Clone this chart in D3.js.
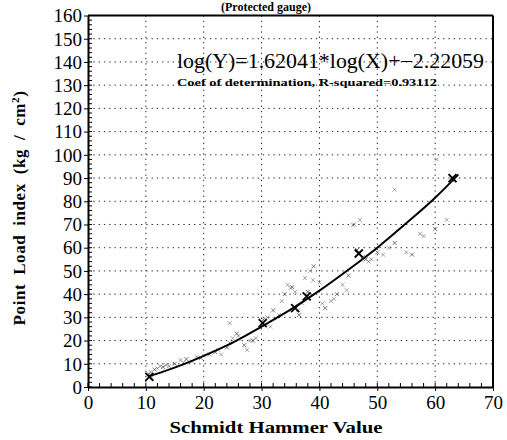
<!DOCTYPE html>
<html><head><meta charset="utf-8">
<script src="https://cdn.jsdelivr.net/npm/d3@7"></script>
<style>
html,body{margin:0;padding:0;background:#fff;}
svg{display:block;}
</style></head>
<body>
<svg id="c" width="507" height="440"></svg>
<script>
// ---- data ----
const xTicks = [0,10,20,30,40,50,60,70];
const yTicks = [0,10,20,30,40,50,60,70,80,90,100,110,120,130,140,150,160];
const xGrid = [10,20,30,40,50,60];
const yGrid = [10,20,30,40,50,60,70,80,90,100,110,120,130,140,150];
// fitted curve
const curveX = [10.5,13,16,20,25,30,35,40,45,50,55,60,64];
const curveY = [4.6,6.6,9.3,13.4,19.1,26.0,33.3,41.5,50.5,60.0,70.5,81.5,91.5];
// observed points (small marks)
const ptX = [10.5,11,10.8,11.5,12,12.5,13,13.5,14,15,16,16.5,17,18,18.8,19.5,20,21,22,22.5,23,24,24.5,24.5,25.7,25,26,27,27.5,28,28.5,29,30,30.3,31,31.5,32,33,33.5,34,34.5,35,35.3,35.8,36.3,36.5,37,37.5,38,38.4,38.9,39,40,40.5,41,42,42.5,43,44,44.7,45,45.8,46,46.5,47,47.5,48,48.5,49,50,51,52,53,53,55,56,57.4,58,60,60.3,62,63];
const ptY = [5.5,4,6.5,7.5,8,9,8.6,9.5,9,10,11.6,10.5,12,11,13,12.5,13.5,14,15,16,14,17,19,27.5,23,21,22,18,16,20,20,21,27,29,30,26,33,31,37,40,44,42.6,43,41,33,31,36,47,41,50,46,52,45,36,34,37,38,40,44,41.7,48,69.7,70,59,72,56,55,54,55,58,57,60,62,85,58,57,66,65,68,98,72,89];
// bold X markers
const bigX = [10.6,30.2,35.8,37.8,46.8,63];
const bigY = [4.4,27.5,34,39,57.5,90];
const equationText = "log(Y)=1.62041*log(X)+\u22122.22059";
const coefText = "Coef of determination, R-squared=0.93112";
const xLabel = "Schmidt Hammer Value";
const titleText = "(Protected gauge)";

// ---- layout ----
const svg = d3.select("#c");
const L = 88, R = 493, T = 15.5, B = 387;
const x = d3.scaleLinear().domain([0,70]).range([L,R]);
const y = d3.scaleLinear().domain([0,160]).range([B,T]);
const F = "Liberation Serif";

// title (kept visible above the frame)
svg.append("text").attr("x",266).attr("y",11).attr("text-anchor","middle")
  .style("font-family",F).attr("font-size",12).attr("font-weight","bold").text(titleText);

// grid
const g = svg.append("g").attr("stroke","#222").attr("stroke-width",1).attr("stroke-dasharray","1.3,4");
g.selectAll("line.gx").data(xGrid).join("line")
  .attr("x1",d=>x(d)).attr("x2",d=>x(d)).attr("y1",y(160)).attr("y2",y(0));
g.selectAll("line.gy").data(yGrid).join("line")
  .attr("x1",x(0)).attr("x2",x(70)).attr("y1",d=>y(d)).attr("y2",d=>y(d));

// minor ticks (inward)
const minorX = d3.range(0,70.01,2);
const minorY = d3.range(0,160.01,2);
svg.append("g").selectAll("line").data(minorX).join("line")
  .attr("x1",d=>x(d)).attr("x2",d=>x(d)).attr("y1",B).attr("y2",B-4)
  .attr("stroke","#000").attr("stroke-width",1);
svg.append("g").selectAll("line").data(minorY).join("line")
  .attr("x1",L).attr("x2",L+4).attr("y1",d=>y(d)).attr("y2",d=>y(d))
  .attr("stroke","#000").attr("stroke-width",1);

// axes
const xAxis = d3.axisBottom(x).tickValues(xTicks).tickSize(4).tickSizeOuter(0).tickPadding(5);
const gx = svg.append("g").attr("transform",`translate(0,${B})`).call(xAxis)
  .attr("font-family",F).attr("font-size",19);
gx.selectAll("text").style("font-family",F).attr("fill","#000");
gx.select(".domain").attr("stroke","#000").attr("stroke-width",2);
const yAxis = d3.axisLeft(y).tickValues(yTicks).tickSize(4).tickSizeOuter(0).tickPadding(2);
const gy = svg.append("g").attr("transform",`translate(${L},0)`).call(yAxis)
  .attr("font-family",F).attr("font-size",19);
gy.selectAll("text").style("font-family",F).attr("fill","#000").attr("dy","0.33em");
gy.select(".domain").attr("stroke","#000").attr("stroke-width",2);

// frame top/right
svg.append("line").attr("x1",L).attr("x2",R).attr("y1",T).attr("y2",T).attr("stroke","#000").attr("stroke-width",2);
svg.append("line").attr("x1",R).attr("x2",R).attr("y1",T).attr("y2",B).attr("stroke","#000").attr("stroke-width",2);

// points
const pts = ptX.map((d,i)=>[d,ptY[i]]);
const s = 2;
const pg = svg.append("g").attr("stroke","#444").attr("stroke-width",0.8).attr("fill","none");
pts.forEach(([a,b],i)=>{
  const cx = x(a), cy = y(b);
  pg.append("path").attr("d",`M${cx-s},${cy-s}L${cx+s},${cy+s}M${cx-s},${cy+s}L${cx+s},${cy-s}`)
    .attr("opacity", i%3===0 ? 0.9 : 0.6);
});
const bg = svg.append("g").attr("stroke","#000").attr("stroke-width",1.8);
bigX.forEach((a,i)=>{
  const cx = x(a), cy = y(bigY[i]), t = 4;
  bg.append("path").attr("d",`M${cx-t},${cy-t}L${cx+t},${cy+t}M${cx-t},${cy+t}L${cx+t},${cy-t}`);
});

// curve
const line = d3.line().x((d,i)=>x(curveX[i])).y((d,i)=>y(curveY[i])).curve(d3.curveMonotoneX);
svg.append("path").datum(curveX).attr("d",line).attr("fill","none").attr("stroke","#000").attr("stroke-width",2);

// annotation
svg.append("text").attr("x",177).attr("y",68).style("font-family",F).attr("font-size",20)
  .attr("textLength",307).attr("lengthAdjust","spacingAndGlyphs").text(equationText);
svg.append("text").attr("x",177).attr("y",86).style("font-family",F).attr("font-size",11).attr("font-weight","bold")
  .attr("textLength",260).attr("lengthAdjust","spacingAndGlyphs").text(coefText);

// axis labels
svg.append("text").attr("x",276).attr("y",433).attr("text-anchor","middle")
  .style("font-family",F).attr("font-size",16).attr("font-weight","bold")
  .attr("textLength",213).attr("lengthAdjust","spacingAndGlyphs").text(xLabel);
const yl = svg.append("text").attr("transform","translate(25,208) rotate(-90)").attr("text-anchor","middle")
  .style("font-family",F).attr("font-size",17).attr("font-weight","bold")
  .attr("word-spacing","4px").attr("letter-spacing","0.6px");
yl.append("tspan").text("Point Load index (kg / cm");
yl.append("tspan").attr("baseline-shift","super").attr("font-size",11).text("2");
yl.append("tspan").text(")");
</script>
</body></html>
